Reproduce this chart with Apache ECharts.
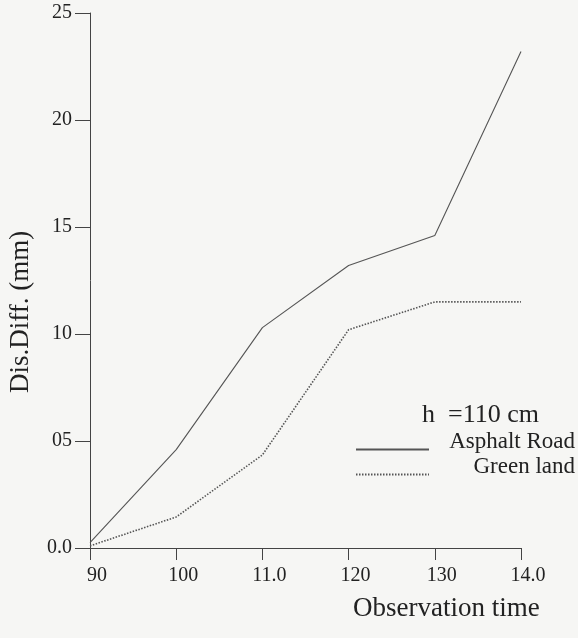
<!DOCTYPE html>
<html>
<head>
<meta charset="utf-8">
<script src="https://cdn.jsdelivr.net/npm/echarts@6/dist/echarts.min.js"></script>
<style>
  html, body { margin: 0; padding: 0; background: #f6f6f4; }
  #chart { width: 578px; height: 638px; }
</style>
</head>
<body>
<div id="chart"></div>
<script>
// data
const times = [90, 100, 110, 120, 130, 140];
const xTickLabels = ['90', '100', '11.0', '120', '130', '14.0'];
const yTickLabels = ['0.0', '05', '10', '15', '20', '25'];
const asphaltRoad = [0.25, 4.6, 10.3, 13.2, 14.6, 23.2];
const greenLand = [0.1, 1.45, 4.35, 10.2, 11.5, 11.5];

const ink = '#222';
const serif = 'Liberation Serif';

const chart = echarts.init(document.getElementById('chart'));

const pairs = (ys) => times.map((t, i) => [t, ys[i]]);

// one legend per series so each row can be placed on its own
const legendRow = (name, top) => ({
    data: [name],
    left: 355,
    top: top,
    padding: 0,
    itemWidth: 73,
    itemHeight: 14,
    itemGap: 8,
    itemStyle: { color: 'transparent', borderWidth: 0 },
    formatter: '{a|{name}}',
    textStyle: {
        rich: {
            a: {
                fontSize: 23,
                color: ink,
                fontFamily: serif,
                width: 141,
                align: 'right',
                padding: [0, 0, 16, 0]
            }
        }
    }
});

chart.setOption({
    backgroundColor: '#f6f6f4',
    animation: false,
    textStyle: { fontFamily: serif, color: ink },
    grid: { left: 90, right: 57, top: 13, bottom: 90 },
    xAxis: {
        type: 'value',
        min: 90,
        max: 140,
        interval: 10,
        axisLine: { lineStyle: { color: '#444', width: 1 } },
        axisTick: { length: 12, lineStyle: { color: '#444' } },
        splitLine: { show: false },
        axisLabel: {
            margin: 18,
            fontSize: 20,
            color: ink,
            fontFamily: serif,
            padding: [0, 0, 0, 14],
            formatter: v => xTickLabels[times.indexOf(v)] || ''
        }
    },
    yAxis: {
        type: 'value',
        min: 0,
        max: 25,
        interval: 5,
        axisLine: { show: true, lineStyle: { color: '#444', width: 1 } },
        axisTick: { show: true, length: 15, lineStyle: { color: '#444' } },
        splitLine: { show: false },
        axisLabel: {
            margin: 18,
            fontSize: 20,
            color: ink,
            fontFamily: serif,
            formatter: v => yTickLabels[v / 5] || ''
        }
    },
    legend: [
        legendRow('Asphalt Road', 430),
        legendRow('Green land', 455)
    ],
    graphic: [
        {
            type: 'text',
            left: 422,
            top: 402,
            style: { text: 'h  =110 cm', font: '26px "Liberation Serif"', fill: ink }
        },
        {
            type: 'text',
            left: 353,
            top: 595,
            style: { text: 'Observation time', font: '27px "Liberation Serif"', fill: ink }
        },
        {
            type: 'text',
            x: 7,
            y: 393,
            rotation: Math.PI / 2,
            style: { text: 'Dis.Diff. (mm)', font: '27px "Liberation Serif"', fill: ink }
        }
    ],
    series: [
        {
            name: 'Asphalt Road',
            type: 'line',
            data: pairs(asphaltRoad),
            symbol: 'none',
            itemStyle: { color: '#555' },
            lineStyle: { color: '#555', width: 1.1 }
        },
        {
            name: 'Green land',
            type: 'line',
            data: pairs(greenLand),
            symbol: 'none',
            itemStyle: { color: '#555' },
            lineStyle: { color: '#555', width: 1.6, type: [1.5, 1.5] }
        }
    ]
});
</script>
</body>
</html>
